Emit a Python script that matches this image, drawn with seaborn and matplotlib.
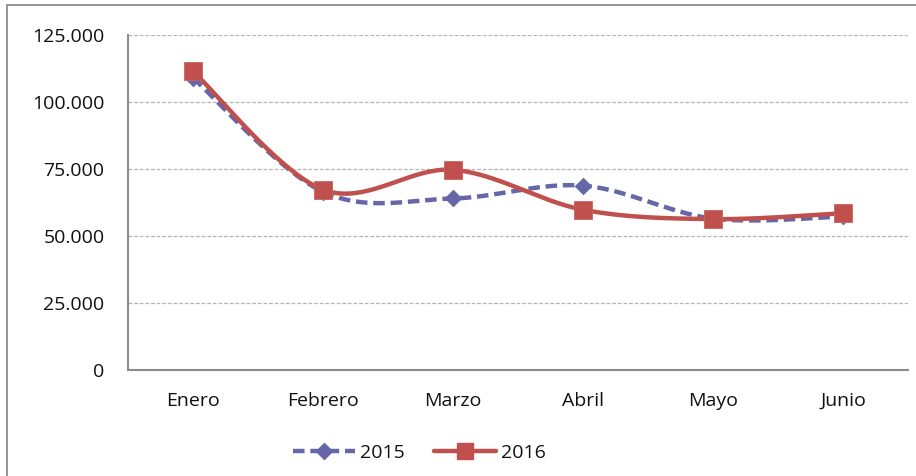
import numpy as np
import pandas as pd
import matplotlib
matplotlib.use("Agg")
import matplotlib.pyplot as plt
import seaborn as sns
from matplotlib.lines import Line2D
from matplotlib.patches import Rectangle

meses = ["Enero", "Febrero", "Marzo", "Abril", "Mayo", "Junio"]
v2015 = [109000, 66500, 64000, 68800, 56500, 57300]
v2016 = [111500, 67300, 74700, 59800, 56300, 58500]
yticks = [0, 25000, 50000, 75000, 100000, 125000]
ytick_labels = ["0", "25.000", "50.000", "75.000", "100.000", "125.000"]

c2015 = "#6667A9"
c2016 = "#C0504D"


def smooth(y, n=40):
    # Excel-like smoothed line (Catmull-Rom bezier)
    x = np.arange(len(y), dtype=float)
    y = np.asarray(y, dtype=float)
    pts = np.column_stack([x, y])
    out = []
    for i in range(len(pts) - 1):
        p0 = pts[max(i - 1, 0)]
        p1 = pts[i]
        p2 = pts[i + 1]
        p3 = pts[min(i + 2, len(pts) - 1)]
        c1 = p1 + (p2 - p0) / 6
        c2 = p2 - (p3 - p1) / 6
        t = np.linspace(0, 1, n)[:, None]
        seg = ((1 - t) ** 3) * p1 + 3 * ((1 - t) ** 2) * t * c1 + 3 * (1 - t) * t ** 2 * c2 + t ** 3 * p2
        out.append(seg if i == 0 else seg[1:])
    out = np.vstack(out)
    return out[:, 0], out[:, 1]


sns.set_style("white")
plt.rcParams["font.family"] = ["Open Sans", "DejaVu Sans"]
plt.rcParams["text.color"] = "#111111"
plt.rcParams["xtick.labelcolor"] = "#111111"
plt.rcParams["ytick.labelcolor"] = "#111111"
fs = 14

fig = plt.figure(figsize=(9.16, 4.76), dpi=100)
ax = fig.add_axes([128 / 916, 1 - 370 / 476, 780 / 916, 335 / 476])

df = pd.DataFrame({"mes": meses, "x": np.arange(len(meses)), "2015": v2015, "2016": v2016})

sx, sy = smooth(df["2015"])
ax.plot(sx, sy, color=c2015, lw=3.2, ls=(0, (2.6, 1.3)), zorder=3)
sns.scatterplot(data=df, x="x", y="2015", marker="D", s=70, color=c2015,
                edgecolor=c2015, ax=ax, zorder=4, legend=False)

sx, sy = smooth(df["2016"])
ax.plot(sx, sy, color=c2016, lw=3.2, zorder=5, solid_capstyle="round")
sns.scatterplot(data=df, x="x", y="2016", marker="s", s=150, color=c2016,
                edgecolor="#C86462", linewidth=0.6, ax=ax, zorder=6, legend=False)

ax.set_xlim(-0.5, len(meses) - 0.5)
ax.set_ylim(0, 125000)
ax.set_yticks(yticks)
ax.set_yticklabels(ytick_labels, fontsize=fs)
ax.set_xticks(np.arange(len(meses)))
ax.set_xticklabels(meses, fontsize=fs)
ax.set_xticks(np.arange(len(meses) + 1) - 0.5, minor=True)
ax.tick_params(axis="x", which="major", length=0, pad=16)
ax.tick_params(axis="x", which="minor", length=7, width=1.3, color="#8C8C8C", direction="out")
ax.tick_params(axis="y", length=7, width=1.3, color="#8C8C8C", direction="out", pad=10)
ax.set_xlabel("")
ax.set_ylabel("")

ax.grid(axis="y", color="#B4B4B4", lw=0.9, ls=(0, (3, 1.5)))
ax.set_axisbelow(True)
for side in ["top", "right"]:
    ax.spines[side].set_visible(False)
for side in ["left", "bottom"]:
    ax.spines[side].set_color("#8C8C8C")
    ax.spines[side].set_linewidth(1.5)

handles = [
    Line2D([], [], color=c2015, lw=3.2, ls=(0, (2.6, 1.3)), marker="D", markersize=8),
    Line2D([], [], color=c2016, lw=3.2, marker="s", markersize=12),
]
fig.legend(handles, ["2015", "2016"], loc="center", bbox_to_anchor=(419 / 916, 1 - 453 / 476),
           ncol=2, frameon=False, fontsize=fs, handlelength=3.2, handletextpad=0.25,
           columnspacing=1.5)

fig.patches.append(Rectangle((7 / 916, -0.1), 1.2, 1 - 5 / 476 + 0.1, transform=fig.transFigure,
                             fill=False, edgecolor="#8C8C8C", lw=1.3))

fig.savefig("out.png", dpi=100)
